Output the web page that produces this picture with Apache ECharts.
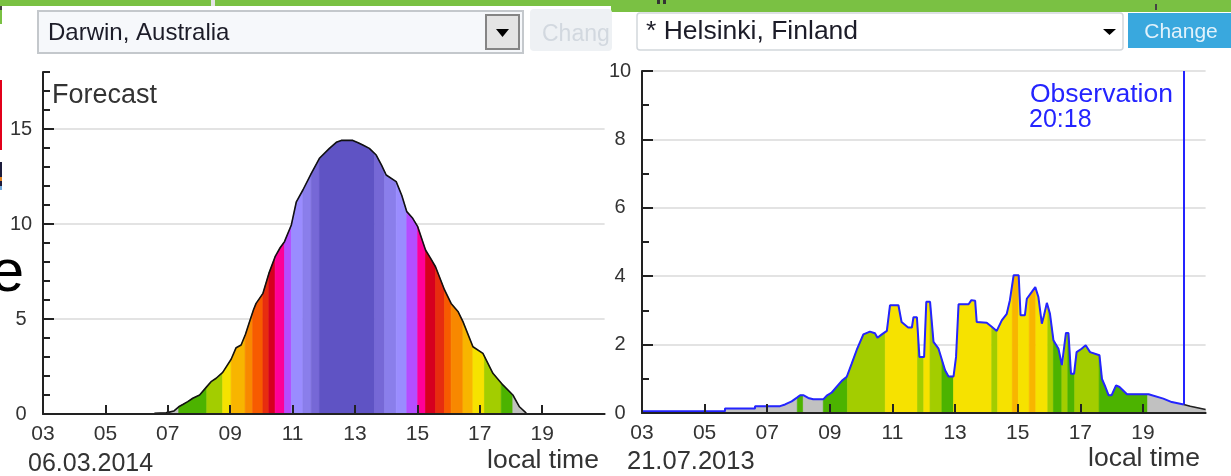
<!DOCTYPE html>
<html>
<head>
<meta charset="utf-8">
<script src="https://cdn.jsdelivr.net/npm/echarts@6/dist/echarts.min.js"></script>
<style>
html,body{margin:0;padding:0;background:#fff;}
#c{width:1231px;height:476px;}
</style>
</head>
<body>
<div id="c"></div>
<script>
// ---------------- DATA ----------------
// x axis: local time (hours)
const xTickHours = [3, 5, 7, 9, 11, 13, 15, 17, 19];

// Darwin, Australia 06.03.2014 – forecast UV index
const darwinTimes = [6.57, 6.95, 6.97, 7.2, 7.35, 7.48, 7.64, 7.8, 8.02, 8.25, 8.4, 8.55, 8.76, 9.03, 9.19, 9.35, 9.49, 9.62, 9.75, 9.83,
  10.05, 10.24, 10.44, 10.6, 10.74, 10.96, 11.12, 11.33, 11.6, 11.86, 12.18, 12.4, 12.56, 12.93, 13.1, 13.25, 13.46, 13.68, 13.85, 14.0,
  14.32, 14.5, 14.66, 14.85, 15.01, 15.26, 15.42, 15.58, 15.87, 16.08, 16.3, 16.46, 16.78, 17.1, 17.42, 17.74, 18.06, 18.27, 18.49];
const darwinUv = [0.04, 0.06, 0.14, 0.16, 0.38, 0.5, 0.65, 0.83, 1.0, 1.44, 1.72, 1.88, 2.19, 2.88, 3.49, 3.63, 4.2, 4.86, 5.5, 5.82,
  6.35, 7.4, 8.28, 8.75, 9.07, 9.95, 11.17, 11.79, 12.67, 13.46, 13.98, 14.3, 14.4, 14.4, 14.28, 14.16, 13.98, 13.63, 13.1, 12.58,
  12.23, 11.5, 10.65, 10.3, 9.86, 8.63, 8.2, 7.75, 6.53, 5.82, 5.4, 4.86, 3.54, 3.19, 2.14, 1.53, 1.0, 0.38, 0.05];
// colour bands under the curve (UV level per time span)
const darwinBandEdges = [6.57, 7.35, 8.25, 8.76, 9.03, 9.48, 9.72, 10.05, 10.24, 10.44, 10.74, 10.96, 11.33, 11.6, 11.86,
  13.63, 13.95, 14.32, 14.66, 15.01, 15.26, 15.58, 15.87, 16.08, 16.46, 16.78, 17.15, 17.69, 18.06, 18.49];
const darwinBandLevels = [0, 1, 2, 3, 4, 5, 6, 7, 8, 9, 10, 11, 12, 13, 14, 13, 12, 11, 10, 9, 8, 7, 6, 5, 4, 3, 2, 1, 0];

// Helsinki, Finland 21.07.2013 – observed UV index
const helsinkiTimes = [3.0, 5.65, 5.65, 6.61, 6.61, 7.41, 7.57, 7.78, 7.95, 8.05, 8.15, 8.31, 8.47, 8.79, 8.9, 9.06, 9.22, 9.38, 9.54, 9.7,
  9.86, 10.07, 10.28, 10.44, 10.52, 10.66, 10.82, 10.92, 11.19, 11.29, 11.5, 11.62, 11.67, 11.78, 11.86, 12.01, 12.08, 12.2, 12.31, 12.47,
  12.68, 12.79, 12.95, 13.03, 13.11, 13.43, 13.52, 13.64, 13.69, 14.01, 14.17, 14.33, 14.49, 14.65, 14.75, 14.87, 15.03, 15.09, 15.23, 15.29,
  15.45, 15.56, 15.66, 15.77, 15.84, 15.93, 16.03, 16.14, 16.3, 16.41, 16.46, 16.54, 16.62, 16.7, 16.8, 16.88, 17.04, 17.17, 17.31, 17.61,
  17.69, 17.8, 17.9, 18.0, 18.14, 18.25, 18.49, 19.18, 19.65, 19.92, 20.3];
const helsinkiUv = [0.05, 0.05, 0.13, 0.13, 0.2, 0.2, 0.25, 0.34, 0.45, 0.52, 0.52, 0.44, 0.4, 0.4, 0.51, 0.6, 0.77, 0.94, 1.06, 1.45,
  1.85, 2.3, 2.38, 2.33, 2.2, 2.3, 2.4, 3.15, 3.15, 2.66, 2.5, 2.5, 2.8, 2.8, 1.64, 1.64, 3.25, 3.25, 2.08, 1.88,
  1.25, 1.07, 1.07, 1.64, 3.18, 3.18, 3.3, 3.28, 2.66, 2.64, 2.52, 2.4, 2.71, 2.9, 3.3, 4.03, 4.03, 2.86, 2.86, 3.34,
  3.54, 3.68, 3.39, 2.61, 2.86, 3.22, 2.9, 2.13, 1.88, 1.4, 1.4, 2.34, 2.34, 1.15, 1.15, 1.78, 1.88, 1.98, 1.78, 1.69,
  1.0, 0.76, 0.52, 0.52, 0.81, 0.76, 0.55, 0.55, 0.42, 0.32, 0.25];
// forecast continuation after the observation time
const helsinkiForecastTimes = [20.3, 20.51, 21.0];
const helsinkiForecastUv = [0.25, 0.2, 0.1];
const helsinkiBandEdges = [3.0, 7.96, 8.15, 8.79, 9.56, 10.77, 11.8, 12.0, 12.2, 12.58, 12.95, 14.17, 14.36, 14.83, 15.02, 15.37,
  15.58, 15.96, 16.14, 16.41, 16.6, 16.82, 17.6, 19.15, 21.0];
const helsinkiBandLevels = [0, 1, 0, 1, 2, 3, 2, 3, 2, 1, 3, 2, 3, 4, 3, 4, 3, 2, 1, 2, 1, 2, 1, 0];
const observationHour = 20.3;
const observationLabel = ['Observation', '20:18'];

// ---------------- STYLE ----------------
const uvColors = ['#c1c1c1', '#4cb300', '#a3cd00', '#f6e200', '#f8b500', '#f88800', '#f75b00', '#e72d0f', '#d6001f',
  '#ff0098', '#b54dff', '#9a8cff', '#8a7eeb', '#7668d6', '#5f53c4'];
const F = '"Liberation Sans", Arial, Helvetica, sans-serif';
const AX = '#222';
const TXT = '#333';
const BLUE = '#2424ff';

function zip(ts, vs) { return ts.map((t, i) => [t, vs[i]]); }
function interp(ts, vs, x) {
  if (x <= ts[0]) return vs[0];
  for (let i = 1; i < ts.length; i++) {
    if (x <= ts[i]) {
      const t0 = ts[i - 1], t1 = ts[i];
      if (t1 === t0) return vs[i];
      return vs[i - 1] + (vs[i] - vs[i - 1]) * (x - t0) / (t1 - t0);
    }
  }
  return vs[vs.length - 1];
}
function bandSeries(xi, yi, ts, vs, edges, levels) {
  return {
    type: 'custom', coordinateSystem: 'cartesian2d', xAxisIndex: xi, yAxisIndex: yi, z: 1, silent: true,
    encode: { x: [0, 1], y: 2 },
    data: levels.map((lv, i) => [edges[i], edges[i + 1], lv]),
    renderItem: function (params, api) {
      const x0 = api.value(0), x1 = api.value(1), lv = api.value(2);
      const pts = [api.coord([x0, 0]), api.coord([x0, interp(ts, vs, x0)])];
      for (let i = 0; i < ts.length; i++) {
        if (ts[i] > x0 && ts[i] < x1) pts.push(api.coord([ts[i], vs[i]]));
      }
      pts.push(api.coord([x1, interp(ts, vs, x1)]));
      pts.push(api.coord([x1, 0]));
      const c = uvColors[lv];
      return { type: 'polygon', shape: { points: pts }, style: { fill: c, stroke: c, lineWidth: 0.7 } };
    }
  };
}
const pad = v => (v >= 21 ? '' : (v < 10 ? '0' : '') + v);
function xAxisCfg(gi) {
  return {
    gridIndex: gi, type: 'value', min: 3, max: 21, interval: 2, z: 5,
    axisLine: { show: true, onZero: false, lineStyle: { color: AX, width: 2 } },
    axisTick: { show: true, inside: true, length: 9, lineStyle: { color: AX, width: 2 } },
    axisLabel: { show: true, formatter: pad, fontSize: 21, fontFamily: F, color: TXT, margin: 10, showMaxLabel: false },
    splitLine: { show: false }
  };
}

const helsinkiAll = { t: helsinkiTimes.concat(helsinkiForecastTimes.slice(1)), v: helsinkiUv.concat(helsinkiForecastUv.slice(1)) };
const obsValue = interp(helsinkiAll.t, helsinkiAll.v, observationHour);

function txt(text, x, y, size, fill, align) {
  return { type: 'text', silent: true, style: { text: text, x: x, y: y, font: size + 'px ' + F, fill: fill,
    textAlign: align || 'left', align: align || 'left', textVerticalAlign: 'middle', verticalAlign: 'middle' } };
}

const option = {
  animation: false,
  textStyle: { fontFamily: F },
  grid: [
    { left: 43, top: 72, width: 561.6, height: 342 },
    { left: 642, top: 71, width: 563.6, height: 342 }
  ],
  xAxis: [xAxisCfg(0), xAxisCfg(1)],
  yAxis: [
    { gridIndex: 0, type: 'value', min: 0, max: 18, interval: 5, position: 'left', z: 0,
      axisLine: { show: true, onZero: false, lineStyle: { color: AX, width: 2 } },
      axisTick: { show: true, inside: true, length: 11, lineStyle: { color: AX, width: 2 } },
      axisLabel: { show: true, align: 'center', margin: 22, fontSize: 20, fontFamily: F, color: TXT,
        formatter: v => (v > 15 ? '' : String(v)), showMaxLabel: false },
      splitLine: { show: true, showMinLine: false, showMaxLine: false, lineStyle: { color: '#dadada', width: 1.5 } } },
    { gridIndex: 0, type: 'value', min: 0, max: 18, interval: 1, position: 'left', offset: 0, z: 0,
      axisLine: { show: false, onZero: false },
      axisTick: { show: true, inside: true, length: 7, lineStyle: { color: AX, width: 2 } },
      axisLabel: { show: false }, splitLine: { show: false } },
    { gridIndex: 1, type: 'value', min: 0, max: 10, interval: 2, position: 'left', z: 0,
      axisLine: { show: true, onZero: false, lineStyle: { color: AX, width: 2 } },
      axisTick: { show: true, inside: true, length: 11, lineStyle: { color: AX, width: 2 } },
      minorTick: { show: true, splitNumber: 2, length: 7, lineStyle: { color: AX, width: 2 } },
      axisLabel: { show: true, align: 'center', margin: 22, fontSize: 20, fontFamily: F, color: TXT },
      splitLine: { show: true, showMinLine: false, lineStyle: { color: '#dadada', width: 1.5 } } }
  ],
  series: [
    bandSeries(0, 0, darwinTimes, darwinUv, darwinBandEdges, darwinBandLevels),
    { type: 'line', xAxisIndex: 0, yAxisIndex: 0, z: 3, silent: true, symbol: 'none', showSymbol: false,
      data: zip(darwinTimes, darwinUv), lineStyle: { color: '#111', width: 1.6 }, emphasis: { disabled: true } },
    bandSeries(1, 2, helsinkiAll.t, helsinkiAll.v, helsinkiBandEdges, helsinkiBandLevels),
    { type: 'line', xAxisIndex: 1, yAxisIndex: 2, z: 3, silent: true, symbol: 'none', showSymbol: false,
      data: zip(helsinkiTimes, helsinkiUv), lineStyle: { color: BLUE, width: 2 }, emphasis: { disabled: true },
      markLine: { silent: true, symbol: ['none', 'none'], label: { show: false }, animation: false,
        lineStyle: { color: BLUE, width: 2, type: 'solid' },
        data: [[{ coord: [observationHour, 10] }, { coord: [observationHour, obsValue] }]] } },
    { type: 'line', xAxisIndex: 1, yAxisIndex: 2, z: 3, silent: true, symbol: 'none', showSymbol: false,
      data: zip(helsinkiForecastTimes, helsinkiForecastUv), lineStyle: { color: '#222', width: 1.6 }, emphasis: { disabled: true } }
  ],
  graphic: { elements: [
    // top green bars
    { type: 'rect', silent: true, shape: { x: 0, y: 0, width: 211, height: 6 }, style: { fill: '#7ac143' } },
    { type: 'rect', silent: true, shape: { x: 211, y: 0, width: 4, height: 6 }, style: { fill: '#e4e4e4' } },
    { type: 'rect', silent: true, shape: { x: 215, y: 0, width: 396, height: 6 }, style: { fill: '#7ac143' } },
    { type: 'rect', silent: true, shape: { x: 611, y: 0, width: 620, height: 12 }, style: { fill: '#7ac143' } },
    { type: 'rect', silent: true, shape: { x: 657, y: 0, width: 3, height: 4 }, style: { fill: '#333' } },
    { type: 'rect', silent: true, shape: { x: 663, y: 0, width: 3, height: 4 }, style: { fill: '#333' } },
    { type: 'rect', silent: true, shape: { x: 1155, y: 4, width: 2, height: 6 }, style: { fill: '#444' } },
    // left edge fragments
    { type: 'rect', silent: true, shape: { x: 0, y: 6, width: 2, height: 4 }, style: { fill: '#444' } },
    { type: 'rect', silent: true, shape: { x: 0, y: 10, width: 2, height: 14 }, style: { fill: '#7ac143' } },
    { type: 'rect', silent: true, shape: { x: 0, y: 80, width: 2, height: 70 }, style: { fill: '#e2001a' } },
    { type: 'rect', silent: true, shape: { x: 0, y: 162, width: 2, height: 28 }, style: { fill: '#1c1c3c' } },
    { type: 'rect', silent: true, shape: { x: 0, y: 177, width: 2, height: 4 }, style: { fill: '#e08020' } },
    { type: 'rect', silent: true, shape: { x: 0, y: 186, width: 2, height: 4 }, style: { fill: '#6fa8dc' } },
    txt('e', 24, 274, 60, '#000', 'right'),
    // left dropdown
    { type: 'rect', silent: true, shape: { x: 38, y: 11, width: 485, height: 42 }, style: { fill: '#f6f8fb', stroke: '#c4c8cc', lineWidth: 2 } },
    txt('Darwin, Australia', 48, 33, 24, '#1c1c28'),
    { type: 'rect', silent: true, shape: { x: 486, y: 15, width: 33, height: 34 }, style: { fill: '#e4e4e4', stroke: '#858585', lineWidth: 2 } },
    { type: 'polygon', silent: true, shape: { points: [[496, 29], [509, 29], [502.5, 37]] }, style: { fill: '#000' } },
    { type: 'rect', silent: true, shape: { x: 530, y: 9, width: 82, height: 42, r: 4 }, style: { fill: '#eef1f4' } },
    txt('Chang', 542, 35, 23, '#d2d8df'),
    // right dropdown
    { type: 'rect', silent: true, shape: { x: 637, y: 13, width: 486, height: 37, r: 3 }, style: { fill: '#fff', stroke: '#d2d7dc', lineWidth: 1.5 } },
    txt('* Helsinki, Finland', 646, 32, 26.5, '#1c1c28'),
    { type: 'polygon', silent: true, shape: { points: [[1103, 29], [1116, 29], [1109.5, 35]] }, style: { fill: '#000' } },
    { type: 'rect', silent: true, shape: { x: 1128, y: 13, width: 103, height: 35 }, style: { fill: '#39a8de' } },
    txt('Change', 1181, 32, 21, '#e2f2fb', 'center'),
    // chart texts
    txt('Forecast', 52, 96, 27, TXT),
    txt('06.03.2014', 28, 464, 25, TXT),
    txt('local time', 487, 461, 26.5, TXT),
    txt('21.07.2013', 627, 462, 25.5, TXT),
    txt('local time', 1088, 459, 26.5, TXT),
    txt(observationLabel[0], 1030, 95, 26.5, BLUE),
    txt(observationLabel[1], 1029, 120, 25, BLUE)
  ] }
};

const chart = echarts.init(document.getElementById('c'), null, { renderer: 'canvas' });
chart.setOption(option);
</script>
</body>
</html>
